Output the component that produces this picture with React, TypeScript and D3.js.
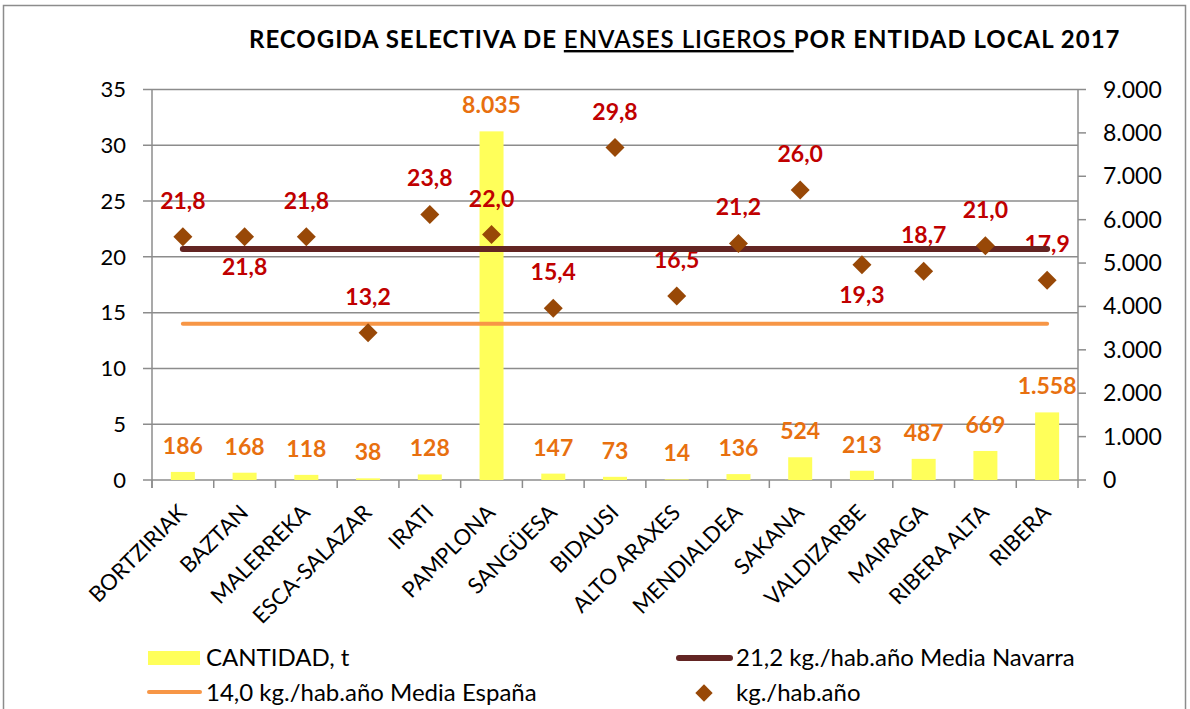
import React, { useEffect, useRef } from "react"
import * as d3 from "d3"

const categories = ["BORTZIRIAK", "BAZTAN", "MALERREKA", "ESCA-SALAZAR", "IRATI", "PAMPLONA", "SANGÜESA", "BIDAUSI", "ALTO ARAXES", "MENDIALDEA", "SAKANA", "VALDIZARBE", "MAIRAGA", "RIBERA ALTA", "RIBERA"]
const cantidad = [186, 168, 118, 38, 128, 8035, 147, 73, 14, 136, 524, 213, 487, 669, 1558]
const kgHab = [21.8, 21.8, 21.8, 13.2, 23.8, 22.0, 15.4, 29.8, 16.5, 21.2, 26.0, 19.3, 18.7, 21.0, 17.9]
// labels placed under the point for these
const labelBelow = ["BAZTAN", "VALDIZARBE"]
const mediaNavarra = [20.7]
const mediaEspana = [14.0]
const leftTicks = [0, 5, 10, 15, 20, 25, 30, 35]
const rightTicks = [0, 1000, 2000, 3000, 4000, 5000, 6000, 7000, 8000, 9000]

const W = 1190
const H = 709
const FONT = "Lato, 'Open Sans', sans-serif"

const fmtThousands = (v: number) => d3.format(",")(v).replace(/,/g, ".")
const fmtDec = (v: number) => v.toFixed(1).replace(".", ",")

export default function App() {
  const ref = useRef<SVGSVGElement>(null)

  useEffect(() => {
    const svg = d3.select(ref.current)
    svg.selectAll("*").remove()

    const left = 152
    const right = 1078
    const top = 89.5
    const bottom = 480

    const x = d3.scaleBand().domain(categories).range([left, right])
    const yL = d3.scaleLinear().domain([0, 35]).range([bottom, top])
    const yR = d3.scaleLinear().domain([0, 9000]).range([bottom, top])
    const cx = (c: string) => (x(c) as number) + x.bandwidth() / 2

    // frame
    svg.append("rect").attr("x", 3.5).attr("y", 5.5).attr("width", 1182).attr("height", 720)
      .attr("fill", "white").attr("stroke", "#8c8c8c").attr("stroke-width", 1.5)

    // title
    const title = svg.append("text").attr("x", 249).attr("y", 48).attr("font-family", FONT)
      .attr("font-size", 24).attr("letter-spacing", 1).attr("fill", "#000")
    title.append("tspan").attr("font-weight", "bold").text("RECOGIDA SELECTIVA DE ")
    title.append("tspan").attr("text-decoration", "underline").attr("font-weight", "600").text("ENVASES LIGEROS\u00a0")
    title.append("tspan").attr("font-weight", "bold").text("POR ENTIDAD LOCAL 2017")

    // gridlines
    svg.append("g").selectAll("line").data(leftTicks).join("line")
      .attr("x1", left - 9).attr("x2", right).attr("y1", (d) => yL(d)).attr("y2", (d) => yL(d))
      .attr("stroke", "#8c8c8c").attr("stroke-width", 1.5)

    // axis lines
    svg.append("line").attr("x1", left).attr("x2", left).attr("y1", top).attr("y2", bottom + 8)
      .attr("stroke", "#8c8c8c").attr("stroke-width", 1.5)
    svg.append("line").attr("x1", right).attr("x2", right).attr("y1", top).attr("y2", bottom + 8)
      .attr("stroke", "#8c8c8c").attr("stroke-width", 1.5)
    svg.append("g").selectAll("line").data(rightTicks).join("line")
      .attr("x1", right).attr("x2", right + 8).attr("y1", (d) => yR(d)).attr("y2", (d) => yR(d))
      .attr("stroke", "#8c8c8c").attr("stroke-width", 1.5)
    svg.append("g").selectAll("line").data(categories).join("line")
      .attr("x1", (d) => x(d) as number).attr("x2", (d) => x(d) as number)
      .attr("y1", bottom).attr("y2", bottom + 8)
      .attr("stroke", "#8c8c8c").attr("stroke-width", 1.5)

    // tick labels
    svg.append("g").selectAll("text").data(leftTicks).join("text")
      .attr("x", left - 26).attr("y", (d) => yL(d)).attr("dy", "0.35em").attr("text-anchor", "end")
      .attr("font-family", FONT).attr("font-size", 22).attr("fill", "#000").text((d) => d)
    svg.append("g").selectAll("text").data(rightTicks).join("text")
      .attr("x", right + 25).attr("y", (d) => yR(d)).attr("dy", "0.35em")
      .attr("font-family", FONT).attr("font-size", 23).attr("fill", "#000").text((d) => fmtThousands(d))
    svg.append("g").selectAll("text").data(categories).join("text")
      .attr("transform", (d) => `translate(${cx(d) + 5},${bottom + 34}) rotate(-45)`)
      .attr("text-anchor", "end")
      .attr("font-family", FONT).attr("font-size", 22).attr("fill", "#000").text((d) => d)

    // bars
    const bw = 24
    svg.append("g").selectAll("rect").data(categories).join("rect")
      .attr("x", (d) => cx(d) - bw / 2).attr("width", bw)
      .attr("y", (d, i) => yR(cantidad[i])).attr("height", (d, i) => bottom - yR(cantidad[i]))
      .attr("fill", "#ffff5a")

    // quantity labels
    svg.append("g").selectAll("text").data(categories).join("text")
      .attr("x", (d) => cx(d)).attr("y", (d, i) => yR(cantidad[i]) - 18).attr("text-anchor", "middle")
      .attr("font-family", FONT).attr("font-size", 23).attr("font-weight", "bold").attr("fill", "#e8700f")
      .text((d, i) => fmtThousands(cantidad[i]))

    // kg labels
    svg.append("g").selectAll("text").data(categories).join("text")
      .attr("x", (d) => cx(d))
      .attr("y", (d, i) => yL(kgHab[i]) + (labelBelow.includes(d) ? 38 : -28))
      .attr("text-anchor", "middle")
      .attr("font-family", FONT).attr("font-size", 23).attr("font-weight", "bold").attr("fill", "#c00000")
      .text((d, i) => fmtDec(kgHab[i]))

    // reference lines
    const first = cx(categories[0])
    const last = cx(categories[categories.length - 1])
    svg.append("line").attr("x1", first).attr("x2", last)
      .attr("y1", yL(mediaEspana[0])).attr("y2", yL(mediaEspana[0]))
      .attr("stroke", "#f79646").attr("stroke-width", 4).attr("stroke-linecap", "round")
    svg.append("line").attr("x1", first).attr("x2", last)
      .attr("y1", yL(mediaNavarra[0])).attr("y2", yL(mediaNavarra[0]))
      .attr("stroke", "#632523").attr("stroke-width", 6).attr("stroke-linecap", "round")

    // diamonds
    const diamond = d3.symbol().type(d3.symbolSquare).size(180)
    svg.append("g").selectAll("path").data(categories).join("path")
      .attr("d", diamond)
      .attr("transform", (d, i) => `translate(${cx(d)},${yL(kgHab[i])}) rotate(45)`)
      .attr("fill", "#984807")

    // legend
    const lg = svg.append("g").attr("font-family", FONT).attr("font-size", 24).attr("fill", "#000")
    lg.append("rect").attr("x", 148).attr("y", 651).attr("width", 52).attr("height", 14).attr("fill", "#ffff5a")
    lg.append("text").attr("x", 206).attr("y", 666).text("CANTIDAD, t")
    lg.append("line").attr("x1", 679).attr("x2", 730).attr("y1", 658).attr("y2", 658)
      .attr("stroke", "#632523").attr("stroke-width", 6).attr("stroke-linecap", "round")
    lg.append("text").attr("x", 736).attr("y", 666).text("21,2 kg./hab.año Media Navarra")
    lg.append("line").attr("x1", 149).attr("x2", 200).attr("y1", 692).attr("y2", 692)
      .attr("stroke", "#f79646").attr("stroke-width", 4).attr("stroke-linecap", "round")
    lg.append("text").attr("x", 206).attr("y", 701).text("14,0 kg./hab.año Media España")
    lg.append("path").attr("d", d3.symbol().type(d3.symbolSquare).size(150))
      .attr("transform", "translate(704,693) rotate(45)").attr("fill", "#984807")
    lg.append("text").attr("x", 736).attr("y", 701).text("kg./hab.año")
  }, [])

  return (
    <svg ref={ref} width={W} height={H} style={{ position: "absolute", left: 0, top: 0, display: "block" }} />
  )
}
